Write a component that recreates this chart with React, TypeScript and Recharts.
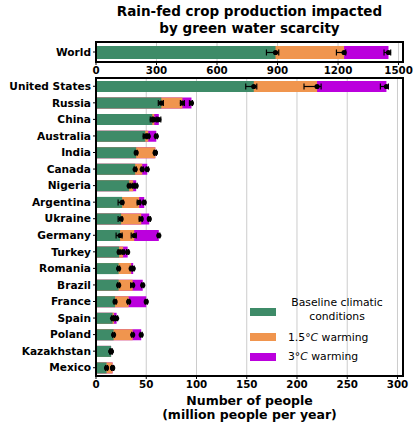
import {
  BarChart,
  Bar,
  XAxis,
  YAxis,
  CartesianGrid,
  ErrorBar,
  LabelList,
} from "recharts";

const countries = [
  "United States", "Russia", "China", "Australia", "India", "Canada",
  "Nigeria", "Argentina", "Ukraine", "Germany", "Turkey", "Romania",
  "Brazil", "France", "Spain", "Poland", "Kazakhstan", "Mexico",
];
const baseline = [157, 65, 56, 49, 40, 39, 33, 26, 25, 24, 23, 22.5, 22.5, 19, 16.5, 17.5, 15, 10.5];
const warm15 = [220, 86, 58, 52, 59, 46, 37, 43, 45, 38, 27, 35, 36.5, 32.5, 18, 36.5, 15, 16.5];
const warm3 = [289, 95, 62.5, 60, 59, 51, 40, 48, 53, 62.5, 31.5, 37, 46.5, 50, 20.5, 45, 15, 16.5];

// [minus, plus] uncertainty around each value
const baselineErr = [[8, 3], [3, 2], [2, 1], [2, 1], [1, 1], [1, 1], [1, 1], [4, 1], [3, 1], [4, 2], [1, 1], [1, 1], [1, 1], [1, 1], [1, 1], [1, 1], [1, 1], [1, 1]];
const warm15Err = [[13, 4], [2, 2], [2, 2], [1, 1], [1, 1], [1, 1], [1, 1], [2, 1], [2, 1], [3, 2], [1, 1], [1, 1], [2, 1], [1, 1], [1, 1], [1, 1], [1, 1], [1, 1]];
const warm3Err = [[6, 2], [2, 1], [1, 2], [1, 1], [1, 1], [1, 1], [1, 1], [1, 1], [1, 1], [1, 1], [1, 1], [1, 1], [1, 1], [1, 1], [1, 1], [1, 1], [1, 1], [1, 1]];

const worldLabel = ["World"];
const worldBaseline = [890];
const worldWarm15 = [1230];
const worldWarm3 = [1450];
const worldBaselineErr = [[45, 16]];
const worldWarm15Err = [[38, 8]];
const worldWarm3Err = [[22, 11]];

const mainTicks = [0, 50, 100, 150, 200, 250, 300];
const worldTicks = [0, 300, 600, 900, 1200, 1500];

const GREEN = "#3e8b68";
const ORANGE = "#f0954e";
const PURPLE = "#bb00dd";
const FONT = "DejaVu Sans, sans-serif";

const buildRows = (
  names: string[], b: number[], w15: number[], w3: number[],
  be: number[][], w15e: number[][], w3e: number[][]
) =>
  names.map((name, i) => ({
    name,
    base: b[i],
    w15: w15[i],
    w3: w3[i],
    baseErr: be[i],
    w15Err: w15e[i],
    w3Err: w3e[i],
  }));

const rows = buildRows(countries, baseline, warm15, warm3, baselineErr, warm15Err, warm3Err);
const worldRows = buildRows(worldLabel, worldBaseline, worldWarm15, worldWarm3, worldBaselineErr, worldWarm15Err, worldWarm3Err);

const EndDot = (props: any) => {
  const { x, y, width, height } = props;
  return <circle cx={x + width} cy={y + height / 2} r={2.6} fill="#000" />;
};

const xTickStyle = { fontSize: 10.3, fontWeight: "bold", fill: "#000", fontFamily: FONT };
const yTickStyle = { fontSize: 10.6, fontWeight: "bold", fill: "#000", fontFamily: FONT };

const Series = (barSize: number) => [
  <Bar key="w3" dataKey="w3" yAxisId="c" fill={PURPLE} barSize={barSize} isAnimationActive={false}>
    <ErrorBar dataKey="w3Err" direction="x" width={3} stroke="#000" strokeWidth={1.2} />
    <LabelList dataKey="w3" content={EndDot} />
  </Bar>,
  <Bar key="w15" dataKey="w15" yAxisId="b" fill={ORANGE} barSize={barSize} isAnimationActive={false}>
    <ErrorBar dataKey="w15Err" direction="x" width={3} stroke="#000" strokeWidth={1.2} />
    <LabelList dataKey="w15" content={EndDot} />
  </Bar>,
  <Bar key="base" dataKey="base" yAxisId="a" fill={GREEN} barSize={barSize} isAnimationActive={false}>
    <ErrorBar dataKey="baseErr" direction="x" width={3} stroke="#000" strokeWidth={1.2} />
    <LabelList dataKey="base" content={EndDot} />
  </Bar>,
];

const Frame = ({ left, top, width, height }: { left: number; top: number; width: number; height: number }) => (
  <div
    style={{
      position: "absolute",
      left: left - 1,
      top: top - 1,
      width: width + 2,
      height: height + 2,
      border: "2px solid #000",
      boxSizing: "border-box",
      pointerEvents: "none",
    }}
  />
);

const Patch = ({ color, top }: { color: string; top: number }) => (
  <div style={{ position: "absolute", left: 250, top, width: 26, height: 8, background: color }} />
);

const legendText = {
  position: "absolute" as const,
  fontFamily: FONT,
  fontSize: 10.8,
  lineHeight: "14px",
  color: "#000",
  whiteSpace: "nowrap" as const,
};

const App = () => {
  return (
    <div
      style={{
        position: "absolute",
        left: 0,
        top: 0,
        width: 420,
        height: 426,
        background: "#fff",
        fontFamily: FONT,
        overflow: "hidden",
      }}
    >
      <div
        style={{
          position: "absolute",
          left: 96,
          width: 307,
          top: 3,
          textAlign: "center",
          fontWeight: "bold",
          fontSize: 13.5,
          lineHeight: "17px",
          color: "#000",
        }}
      >
        Rain-fed crop production impacted
        <br />
        by green water scarcity
      </div>

      {/* World panel */}
      <div style={{ position: "absolute", left: 0, top: 36 }}>
        <BarChart
          width={420}
          height={46}
          data={worldRows}
          layout="vertical"
          margin={{ top: 6, right: 17, bottom: 0, left: 0 }}
        >
          <CartesianGrid horizontal={false} stroke="#cccccc" yAxisId="a" />
          <XAxis
            type="number"
            domain={[0, 1522]}
            ticks={worldTicks}
            allowDataOverflow
            tick={xTickStyle}
            tickSize={3}
            tickLine={{ stroke: "#000" }}
            axisLine={false}
            height={20}
          />
          <YAxis yAxisId="a" type="category" dataKey="name" width={96} tick={yTickStyle} tickSize={3} tickLine={{ stroke: "#000" }} axisLine={false} />
          <YAxis yAxisId="b" type="category" dataKey="name" hide />
          <YAxis yAxisId="c" type="category" dataKey="name" hide />
          {Series(13)}
        </BarChart>
      </div>
      <Frame left={96} top={42} width={307} height={20} />

      {/* Country panel */}
      <div style={{ position: "absolute", left: 0, top: 72 }}>
        <BarChart
          width={420}
          height={324}
          data={rows}
          layout="vertical"
          margin={{ top: 6, right: 17, bottom: 0, left: 0 }}
        >
          <CartesianGrid horizontal={false} stroke="#cccccc" yAxisId="a" />
          <XAxis
            type="number"
            domain={[0, 305.5]}
            ticks={mainTicks}
            allowDataOverflow
            tick={xTickStyle}
            tickSize={3}
            tickLine={{ stroke: "#000" }}
            axisLine={false}
            height={20}
          />
          <YAxis yAxisId="a" type="category" dataKey="name" width={96} tick={yTickStyle} tickSize={3} tickLine={{ stroke: "#000" }} axisLine={false} interval={0} />
          <YAxis yAxisId="b" type="category" dataKey="name" hide />
          <YAxis yAxisId="c" type="category" dataKey="name" hide />
          {Series(11)}
        </BarChart>
      </div>
      <Frame left={96} top={78} width={307} height={298} />

      {/* Legend */}
      <Patch color={GREEN} top={308} />
      <Patch color={ORANGE} top={333} />
      <Patch color={PURPLE} top={353} />
      <div style={{ ...legendText, left: 286, top: 296, width: 102, textAlign: "center" }}>
        Baseline climatic
        <br />
        conditions
      </div>
      <div style={{ ...legendText, left: 288, top: 331 }}>
        1.5°<i>C</i> warming
      </div>
      <div style={{ ...legendText, left: 288, top: 350 }}>
        3°<i>C</i> warming
      </div>

      <div
        style={{
          position: "absolute",
          left: 96,
          width: 307,
          top: 394,
          textAlign: "center",
          fontWeight: "bold",
          fontSize: 12.5,
          lineHeight: "14px",
          color: "#000",
        }}
      >
        Number of people
        <br />
        (million people per year)
      </div>
    </div>
  );
};

export default App;
